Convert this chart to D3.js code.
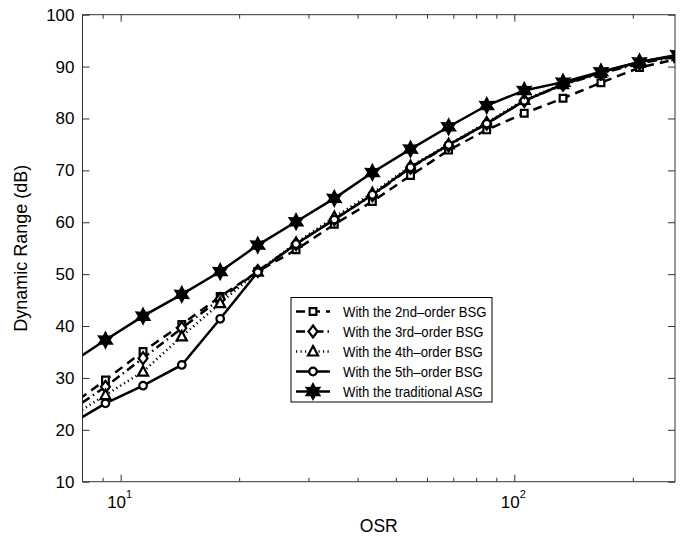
<!DOCTYPE html>
<html>
<head>
<meta charset="utf-8">
<script src="https://cdn.jsdelivr.net/npm/d3@7"></script>
<style>
  body { margin: 0; background: #fff; }
  svg text { font-family: "Liberation Sans", Arial, Helvetica, sans-serif; fill: #000; }
</style>
</head>
<body>
<div id="chart-area"></div>
<script>
// OSR points (first and last fall just outside the plotted range)
var osr = [7.3, 9.15, 11.4, 14.3, 17.9, 22.3, 27.9, 34.9, 43.6, 54.5, 68.1, 85.1, 106, 133, 166, 208, 260];

var bsg2 = [24.2, 29.6, 35.1, 40.3, 45.7, 50.5, 54.7, 59.6, 64.0, 69.0, 73.9, 77.8, 81.0, 83.9, 86.9, 89.8, 91.5];
var bsg3 = [23.2, 28.3, 33.8, 39.6, 45.2, 50.6, 55.8, 60.6, 65.2, 70.5, 74.8, 79.0, 83.4, 86.5, 88.7, 90.6, 92.0];
var bsg4 = [22.0, 26.7, 31.2, 38.0, 44.4, 50.5, 56.0, 61.0, 65.6, 70.8, 75.0, 79.2, 83.6, 86.6, 88.8, 90.7, 92.0];
var bsg5 = [20.7, 25.1, 28.5, 32.5, 41.4, 50.4, 55.8, 60.5, 65.3, 70.6, 74.9, 79.0, 83.4, 86.6, 88.9, 90.9, 92.1];
var asg  = [32.4, 37.3, 41.9, 46.1, 50.5, 55.6, 60.1, 64.6, 69.6, 74.1, 78.4, 82.5, 85.4, 87.0, 89.0, 90.9, 92.3];

var legendLabels = [
  "With the 2nd\u2013order BSG",
  "With the 3rd\u2013order BSG",
  "With the 4th\u2013order BSG",
  "With the 5th\u2013order BSG",
  "With the traditional ASG"
];

var yTicks = [10, 20, 30, 40, 50, 60, 70, 80, 90, 100];
var xMajor = [10, 100];
var xMinor = [9, 20, 30, 40, 50, 60, 70, 80, 90, 200];

var width = 681, height = 542;
var plotL = 82.5, plotR = 675, plotT = 14.7, plotB = 481.7;

var svg = d3.select("#chart-area").append("svg")
    .attr("width", width)
    .attr("height", height);

var x = d3.scaleLog().domain([8, 256]).range([plotL, plotR]);
var y = d3.scaleLinear().domain([10, 100]).range([plotB, plotT]);

svg.append("defs").append("clipPath").attr("id", "plot-clip")
  .append("rect")
    .attr("x", plotL).attr("y", plotT)
    .attr("width", plotR - plotL).attr("height", plotB - plotT);

// frame
svg.append("rect")
    .attr("x", plotL).attr("y", plotT)
    .attr("width", plotR - plotL).attr("height", plotB - plotT)
    .attr("fill", "none")
    .attr("stroke", "#333")
    .attr("stroke-width", 1);

function styleAxis(g) {
    g.select(".domain").remove();
    g.selectAll(".tick line").attr("stroke", "#333");
}

// bottom / top ticks (inward)
svg.append("g").attr("transform", "translate(0," + plotB + ")")
    .call(d3.axisBottom(x).tickValues(xMajor).tickSize(-7).tickFormat(""))
    .call(styleAxis);
svg.append("g").attr("transform", "translate(0," + plotB + ")")
    .call(d3.axisBottom(x).tickValues(xMinor).tickSize(-4).tickFormat(""))
    .call(styleAxis);
svg.append("g").attr("transform", "translate(0," + plotT + ")")
    .call(d3.axisTop(x).tickValues(xMajor).tickSize(-7).tickFormat(""))
    .call(styleAxis);
svg.append("g").attr("transform", "translate(0," + plotT + ")")
    .call(d3.axisTop(x).tickValues(xMinor).tickSize(-4).tickFormat(""))
    .call(styleAxis);

// x tick labels 10^1, 10^2
var xl = svg.append("g").selectAll("text")
    .data(xMajor)
    .enter().append("text")
    .attr("x", function(d) { return x(d) - 1; })
    .attr("y", 508)
    .attr("text-anchor", "middle")
    .attr("font-size", "17px");
xl.append("tspan").text("10");
xl.append("tspan")
    .attr("dy", -10)
    .attr("font-size", "11px")
    .text(function(d) { return Math.round(Math.log10(d)); });

// y axis
var leftAxis = d3.axisLeft(y).tickValues(yTicks).tickSize(-7).tickPadding(8);
svg.append("g").attr("transform", "translate(" + plotL + ",0)")
    .call(leftAxis)
    .call(styleAxis)
  .selectAll("text")
    .attr("font-size", "17px")
    .attr("font-family", null);
svg.append("g").attr("transform", "translate(" + plotR + ",0)")
    .call(d3.axisRight(y).tickValues(yTicks).tickSize(-7).tickFormat(""))
    .call(styleAxis);

// axis labels
svg.append("text")
    .attr("x", (plotL + plotR) / 2)
    .attr("y", 532)
    .attr("text-anchor", "middle")
    .attr("font-size", "17.5px")
    .text("OSR");
svg.append("text")
    .attr("transform", "translate(27," + (plotB + plotT) / 2 + ") rotate(-90)")
    .attr("text-anchor", "middle")
    .attr("font-size", "18px")
    .text("Dynamic Range (dB)");

// series
var series = [
  { values: bsg2, dash: "9,6", marker: "square" },
  { values: bsg3, dash: "9,4,1.5,4", marker: "diamond" },
  { values: bsg4, dash: "1.2,3.3", marker: "triangle" },
  { values: bsg5, dash: null, marker: "circle" },
  { values: asg,  dash: null, marker: "star" }
];

var line = d3.line()
    .x(function(d, i) { return x(osr[i]); })
    .y(function(d) { return y(d); });

var plot = svg.append("g").attr("clip-path", "url(#plot-clip)");

function markerPath(type) {
    if (type === "square") return d3.symbol(d3.symbolSquare, 45)();
    if (type === "diamond") return "M0,-6L4.5,0L0,6L-4.5,0Z";
    if (type === "triangle") return "M0,-5.5L5,4L-5,4Z";
    if (type === "circle") return d3.symbol(d3.symbolCircle, 45)();
    // six-pointed star
    var pts = [];
    for (var k = 0; k < 12; k++) {
        var r = (k % 2 === 0) ? 7.2 : 3.9;
        var a = -Math.PI / 2 + k * Math.PI / 6;
        pts.push([r * Math.cos(a), r * Math.sin(a)]);
    }
    return "M" + pts.join("L") + "Z";
}

series.forEach(function(s) {
    plot.append("path")
        .datum(s.values)
        .attr("d", line)
        .attr("fill", "none")
        .attr("stroke", "#000")
        .attr("stroke-width", 2.5)
        .attr("stroke-dasharray", s.dash);
    plot.selectAll(null)
        .data(s.values)
        .enter().append("path")
        .attr("transform", function(d, i) { return "translate(" + x(osr[i]) + "," + y(d) + ")"; })
        .attr("d", markerPath(s.marker))
        .attr("fill", s.marker === "star" ? "#000" : "#fff")
        .attr("stroke", "#000")
        .attr("stroke-width", 2.2);
});

// legend
var lg = svg.append("g");
lg.append("rect")
    .attr("x", 291).attr("y", 297.5)
    .attr("width", 201).attr("height", 104.5)
    .attr("fill", "#fff")
    .attr("stroke", "#000")
    .attr("stroke-width", 1);

var rows = lg.selectAll("g.row")
    .data(series)
    .enter().append("g")
    .attr("class", "row")
    .attr("transform", function(d, i) { return "translate(0," + (311.5 + i * 20) + ")"; });

rows.append("line")
    .attr("x1", 296).attr("x2", 330)
    .attr("stroke", "#000")
    .attr("stroke-width", 2.5)
    .attr("stroke-dasharray", function(d) { return d.dash; });
rows.append("path")
    .attr("transform", "translate(313,0)")
    .attr("d", function(d) { return markerPath(d.marker); })
    .attr("fill", function(d) { return d.marker === "star" ? "#000" : "#fff"; })
    .attr("stroke", "#000")
    .attr("stroke-width", 2.2);
// the original legend font is narrower than Liberation Sans, squeeze it a bit
rows.append("text")
    .attr("x", 343)
    .attr("y", 5.5)
    .attr("font-size", "15.5px")
    .text(function(d, i) { return legendLabels[i]; })
    .each(function() {
        var w = this.getComputedTextLength();
        d3.select(this)
            .attr("textLength", w * 0.85)
            .attr("lengthAdjust", "spacingAndGlyphs");
    });
</script>
</body>
</html>
